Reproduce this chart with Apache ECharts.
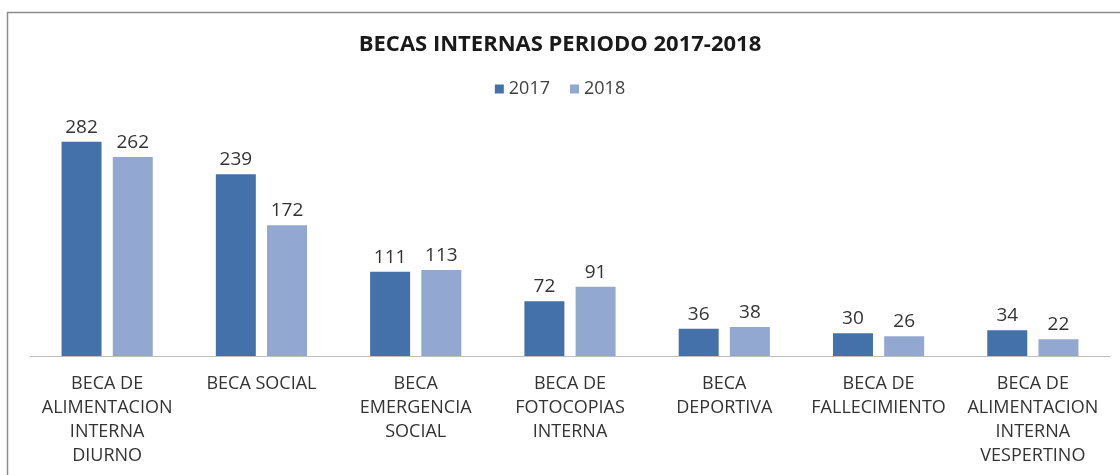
<!DOCTYPE html>
<html><head><meta charset="utf-8">
<script src="https://cdn.jsdelivr.net/npm/echarts@6/dist/echarts.min.js"></script>
<style>html,body{margin:0;padding:0;background:#fff}#c{width:1120px;height:475px}</style>
</head><body><div id="c"></div>
<script>
const categories = [
  'BECA DE\nALIMENTACION\nINTERNA\nDIURNO',
  'BECA SOCIAL',
  'BECA\nEMERGENCIA\nSOCIAL',
  'BECA DE\nFOTOCOPIAS\nINTERNA',
  'BECA\nDEPORTIVA',
  'BECA DE\nFALLECIMIENTO',
  'BECA DE\nALIMENTACION\nINTERNA\nVESPERTINO'
];
const values2017 = [282, 239, 111, 72, 36, 30, 34];
const values2018 = [262, 172, 113, 91, 38, 26, 22];
const seriesNames = ['2017', '2018'];
const titleText = 'BECAS INTERNAS PERIODO 2017-2018';

const FONT = '"Open Sans", sans-serif';
const chart = echarts.init(document.getElementById('c'));
chart.setOption({
  animation: false,
  backgroundColor: '#fff',
  graphic: [{
    type: 'rect', left: 5, top: 10,
    shape: {width: 1130, height: 480},
    style: {fill: 'none', stroke: '#8c8c8c', lineWidth: 1.5}
  }],
  title: {
    text: titleText, left: 'center', top: 29,
    textStyle: {fontFamily: FONT, fontWeight: 'bold', fontSize: 22, color: '#1a1a1a'}
  },
  legend: {
    data: seriesNames, top: 75, left: 'center',
    itemWidth: 9, itemHeight: 9, itemGap: 20, icon: 'rect',
    textStyle: {fontFamily: FONT, fontSize: 18, color: '#404040'}
  },
  grid: {left: 30, right: 10, top: 128, bottom: 119},
  xAxis: {
    type: 'category', data: categories,
    axisLine: {lineStyle: {color: '#bfbfbf', width: 1}},
    axisTick: {show: false},
    axisLabel: {interval: 0, margin: 16, fontFamily: FONT, fontSize: 18, lineHeight: 24, color: '#333'}
  },
  yAxis: {type: 'value', min: 0, max: 300, show: false, splitLine: {show: false}},
  series: [
    {name: seriesNames[0], type: 'bar', data: values2017, barWidth: 40, barGap: '28%',
     itemStyle: {color: '#4571aa'},
     label: {show: true, position: 'top', distance: 5, fontFamily: FONT, fontSize: 19, color: '#333'}},
    {name: seriesNames[1], type: 'bar', data: values2018, barWidth: 40,
     itemStyle: {color: '#93a8d0'},
     label: {show: true, position: 'top', distance: 5, fontFamily: FONT, fontSize: 19, color: '#333'}}
  ]
});
</script></body></html>
